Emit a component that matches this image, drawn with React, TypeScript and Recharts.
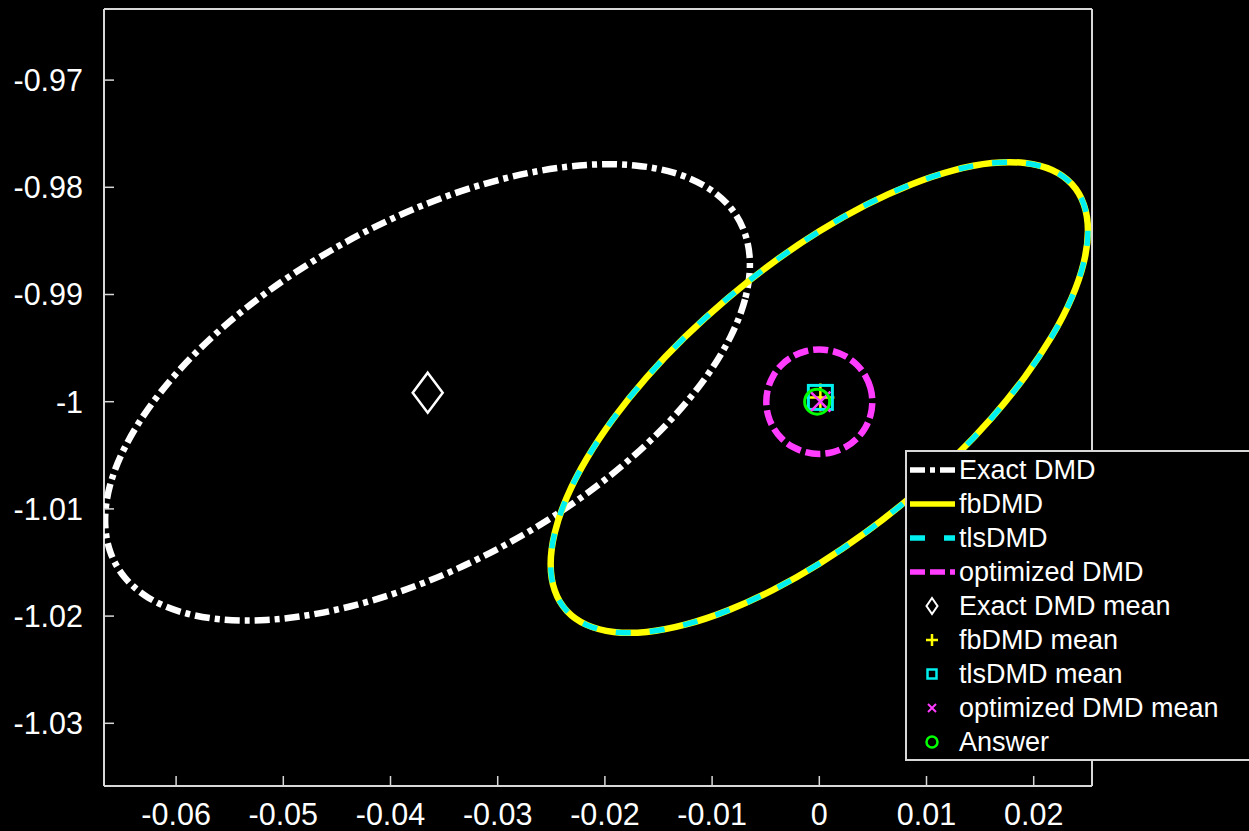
import React from "react";
import { ScatterChart, Scatter, XAxis, YAxis, Legend } from "recharts";

const xTicks = [-0.06, -0.05, -0.04, -0.03, -0.02, -0.01, 0, 0.01, 0.02];
const yTicks = [-1.03, -1.02, -1.01, -1, -0.99, -0.98, -0.97];

// Exact DMD uncertainty ellipse
const exactX = [
    -0.00632, -0.00678, -0.00814, -0.01037, -0.0134, -0.01712, -0.02144, -0.02621, -0.03131,
    -0.03655, -0.04179, -0.04688, -0.05166, -0.05598, -0.0597, -0.06272, -0.06495, -0.06632,
    -0.06677, -0.06632, -0.06495, -0.06272, -0.0597, -0.05598, -0.05166, -0.04688, -0.04179,
    -0.03655, -0.03131, -0.02621, -0.02144, -0.01712, -0.0134, -0.01037, -0.00814, -0.00678,
];
const exactY = [
    -0.98715, -0.99041, -0.99392, -0.99761, -1.00134, -1.005, -1.00848, -1.01168, -1.0145,
    -1.01685, -1.01866, -1.01987, -1.02047, -1.02041, -1.0197, -1.01838, -1.01646, -1.01401,
    -1.01112, -1.00785, -1.00435, -1.00065, -0.99692, -0.99326, -0.98978, -0.98659, -0.98377,
    -0.98142, -0.97961, -0.9784, -0.97779, -0.97785, -0.97856, -0.97989, -0.98181, -0.98425,
];

// fbDMD ellipse
const fbX = [
    0.02519, 0.0248, 0.02367, 0.02181, 0.01929, 0.01619, 0.01259, 0.00861, 0.00438,
    0, -0.00438, -0.00861, -0.01259, -0.01619, -0.01929, -0.02181, -0.02367, -0.0248,
    -0.02519, -0.0248, -0.02367, -0.02181, -0.01929, -0.01619, -0.01259, -0.00861, -0.00438,
    0, 0.00438, 0.00861, 0.01259, 0.01619, 0.01929, 0.02181, 0.02367, 0.0248,
];
const fbY = [
    -0.98398, -0.98692, -0.99025, -0.99386, -0.99765, -1.00149, -1.00528, -1.0089, -1.01224,
    -1.01519, -1.01767, -1.01959, -1.02091, -1.02159, -1.02159, -1.02093, -1.01962, -1.01771,
    -1.01523, -1.01229, -1.00896, -1.00535, -1.00157, -0.99772, -0.99393, -0.99032, -0.98698,
    -0.98403, -0.98155, -0.97963, -0.97831, -0.97763, -0.97763, -0.97828, -0.9796, -0.98151,
];

// tlsDMD lands on top of fbDMD
const tlsX = fbX;
const tlsY = fbY;

// optimized DMD ellipse
const optX = [
    0.005, 0.00483, 0.00433, 0.00354, 0.0025, 0.00129, 0, -0.00129, -0.0025, -0.00354, -0.00433, -0.00483,
    -0.005, -0.00483, -0.00433, -0.00354, -0.0025, -0.00129, 0, 0.00129, 0.0025, 0.00354, 0.00433, 0.00483,
];
const optY = [
    -1.0, -0.99872, -0.99754, -0.99651, -0.99573, -0.99524, -0.99507, -0.99524, -0.99573, -0.99651, -0.99754, -0.99872,
    -1.0, -1.00128, -1.00246, -1.00349, -1.00427, -1.00476, -1.00493, -1.00476, -1.00427, -1.00349, -1.00246, -1.00128,
];

// means and true eigenvalue
const exactMean = { x: -0.03653, y: -0.99916 };
const fbMean = { x: 0.0001, y: -0.9996 };
const tlsMean = { x: 0.0001, y: -0.9996 };
const optMean = { x: 0.0001, y: -1.0 };
const answer = { x: -0.0002, y: -1.0 };

const X_DOMAIN: [number, number] = [-0.066726, 0.025438];
const Y_DOMAIN: [number, number] = [-1.035849, -0.963368];

const FONT = "'Liberation Sans', Arial, Helvetica, sans-serif";
const FRAME = "#d8d8d8";

const WHITE = "#ffffff";
const YELLOW = "#ffff00";
const CYAN = "#00f0f0";
const MAGENTA = "#ff3cff";
const GREEN = "#00ff00";

const toPoints = (xs: number[], ys: number[]) => xs.map((x, i) => ({ x, y: ys[i] }));

const noMarker = () => <g />;

const diamond = (cx: number, cy: number, w: number, h: number, color: string, sw: number) => (
    <path
        d={`M${cx},${cy - h} L${cx + w},${cy} L${cx},${cy + h} L${cx - w},${cy} Z`}
        fill="none"
        stroke={color}
        strokeWidth={sw}
    />
);
const plus = (cx: number, cy: number, r: number, color: string, sw: number) => (
    <path d={`M${cx - r},${cy} H${cx + r} M${cx},${cy - r} V${cy + r}`} stroke={color} strokeWidth={sw} />
);
const square = (cx: number, cy: number, r: number, color: string, sw: number) => (
    <rect x={cx - r} y={cy - r} width={2 * r} height={2 * r} fill="none" stroke={color} strokeWidth={sw} />
);
const cross = (cx: number, cy: number, r: number, color: string, sw: number) => (
    <path
        d={`M${cx - r},${cy - r} L${cx + r},${cy + r} M${cx - r},${cy + r} L${cx + r},${cy - r}`}
        stroke={color}
        strokeWidth={sw}
    />
);
const ring = (cx: number, cy: number, r: number, color: string, sw: number) => (
    <circle cx={cx} cy={cy} r={r} fill="none" stroke={color} strokeWidth={sw} />
);

const DiamondShape = (p: any) => diamond(p.cx, p.cy, 15, 20, WHITE, 2.5);
const PlusShape = (p: any) => plus(p.cx, p.cy, 14, YELLOW, 2.5);
const SquareShape = (p: any) => square(p.cx, p.cy, 12, CYAN, 3);
const CrossShape = (p: any) => cross(p.cx, p.cy, 10, MAGENTA, 2.5);
const RingShape = (p: any) => ring(p.cx, p.cy, 12.5, GREEN, 3);

const lines = [
    { name: "Exact DMD", xs: exactX, ys: exactY, color: WHITE, width: 6.5, dash: "15 5 5 5" },
    { name: "fbDMD", xs: fbX, ys: fbY, color: YELLOW, width: 6.5, dash: undefined },
    { name: "tlsDMD", xs: tlsX, ys: tlsY, color: CYAN, width: 5.5, dash: "15 19" },
    { name: "optimized DMD", xs: optX, ys: optY, color: MAGENTA, width: 6.5, dash: "15 5" },
];

const means = [
    { name: "Exact DMD mean", point: exactMean, shape: DiamondShape, icon: () => diamond(25, 17, 5.5, 8, WHITE, 2) },
    { name: "fbDMD mean", point: fbMean, shape: PlusShape, icon: () => plus(25, 17, 6, YELLOW, 2.5) },
    { name: "tlsDMD mean", point: tlsMean, shape: SquareShape, icon: () => square(25, 17, 4.5, CYAN, 2.5) },
    { name: "optimized DMD mean", point: optMean, shape: CrossShape, icon: () => cross(25, 17, 4, MAGENTA, 2) },
    { name: "Answer", point: answer, shape: RingShape, icon: () => ring(25, 17, 5.5, GREEN, 2.5) },
];

const LegendBox = () => (
    <div
        style={{
            boxSizing: "border-box",
            width: 360,
            height: 311,
            border: `2px solid ${FRAME}`,
            background: "#000",
            paddingTop: 1,
            fontFamily: FONT,
            fontSize: 27,
            color: "#fff",
        }}
    >
        {lines.map((l) => (
            <div key={l.name} style={{ display: "flex", alignItems: "center", height: 34, lineHeight: "34px" }}>
                <svg width={52} height={34} style={{ flex: "none" }}>
                    <line x1={3} y1={17} x2={48} y2={17} stroke={l.color} strokeWidth={5.5} strokeDasharray={l.dash} />
                </svg>
                <span style={{ whiteSpace: "nowrap" }}>{l.name}</span>
            </div>
        ))}
        {means.map((m) => (
            <div key={m.name} style={{ display: "flex", alignItems: "center", height: 34, lineHeight: "34px" }}>
                <svg width={52} height={34} style={{ flex: "none" }}>
                    {m.icon()}
                </svg>
                <span style={{ whiteSpace: "nowrap" }}>{m.name}</span>
            </div>
        ))}
    </div>
);

const tickStyle = { fill: "#fff", fontSize: 30.5, fontFamily: FONT };

export default function App() {
    return (
        <div
            style={{
                position: "fixed",
                left: 0,
                top: 0,
                width: 1249,
                height: 831,
                background: "#000",
                overflow: "hidden",
            }}
        >
            <ScatterChart width={1249} height={831} margin={{ top: 8, right: 156, bottom: 0, left: 0 }}>
                <XAxis
                    type="number"
                    dataKey="x"
                    domain={X_DOMAIN}
                    allowDataOverflow
                    ticks={xTicks}
                    interval={0}
                    tickFormatter={(v: number) => String(v)}
                    height={45}
                    tickSize={-10}
                    tickMargin={27}
                    stroke={FRAME}
                    axisLine={{ stroke: FRAME, strokeWidth: 2 }}
                    tickLine={{ stroke: FRAME, strokeWidth: 1.5 }}
                    tick={tickStyle}
                />
                <XAxis
                    xAxisId="top"
                    orientation="top"
                    type="number"
                    dataKey="x"
                    domain={X_DOMAIN}
                    allowDataOverflow
                    ticks={xTicks}
                    interval={0}
                    height={1}
                    tickSize={-10}
                    stroke={FRAME}
                    axisLine={{ stroke: FRAME, strokeWidth: 2 }}
                    tickLine={{ stroke: FRAME, strokeWidth: 1.5 }}
                    tick={false}
                />
                <YAxis
                    type="number"
                    dataKey="y"
                    domain={Y_DOMAIN}
                    allowDataOverflow
                    ticks={yTicks}
                    interval={0}
                    tickFormatter={(v: number) => String(v)}
                    width={104}
                    tickSize={-10}
                    tickMargin={31}
                    stroke={FRAME}
                    axisLine={{ stroke: FRAME, strokeWidth: 2 }}
                    tickLine={{ stroke: FRAME, strokeWidth: 1.5 }}
                    tick={tickStyle}
                />
                <YAxis
                    yAxisId="right"
                    orientation="right"
                    type="number"
                    dataKey="y"
                    domain={Y_DOMAIN}
                    allowDataOverflow
                    ticks={yTicks}
                    interval={0}
                    width={1}
                    tickSize={-10}
                    stroke={FRAME}
                    axisLine={{ stroke: FRAME, strokeWidth: 2 }}
                    tickLine={{ stroke: FRAME, strokeWidth: 1.5 }}
                    tick={false}
                />
                {/* invisible series so the top and right frame axes get a domain */}
                <Scatter
                    xAxisId="top"
                    yAxisId="right"
                    data={[answer]}
                    shape={noMarker}
                    legendType="none"
                    isAnimationActive={false}
                />
                {lines.map((l) => (
                    <Scatter
                        key={l.name}
                        name={l.name}
                        data={toPoints(l.xs, l.ys)}
                        fill="none"
                        stroke={l.color}
                        line={{ stroke: l.color, strokeWidth: l.width, strokeDasharray: l.dash, fill: "none" }}
                        lineJointType="basisClosed"
                        shape={noMarker}
                        legendType="none"
                        isAnimationActive={false}
                    />
                ))}
                {means.map((m) => (
                    <Scatter
                        key={m.name}
                        name={m.name}
                        data={[m.point]}
                        shape={m.shape}
                        legendType="none"
                        isAnimationActive={false}
                    />
                ))}
                <Legend
                    layout="vertical"
                    align="center"
                    verticalAlign="middle"
                    content={() => <LegendBox />}
                    wrapperStyle={{ left: 905, top: 450, width: 360, height: 311, bottom: "auto", right: "auto" }}
                />
            </ScatterChart>
        </div>
    );
}
